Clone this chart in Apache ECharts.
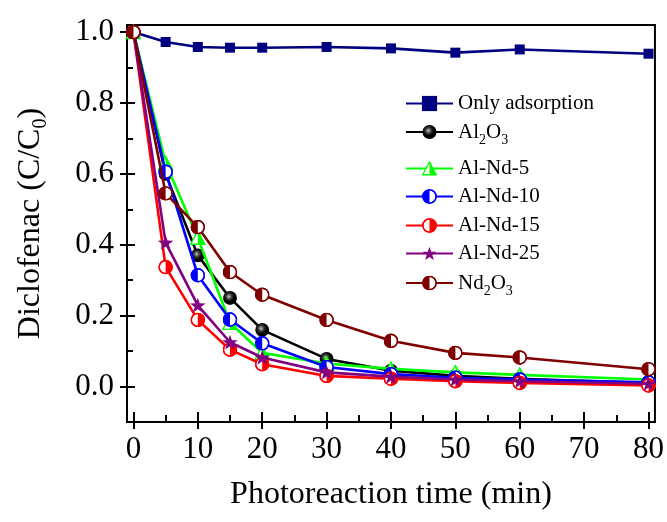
<!DOCTYPE html>
<html><head><meta charset="utf-8">
<script src="https://cdn.jsdelivr.net/npm/echarts@6/dist/echarts.min.js"></script>
<style>html,body{margin:0;padding:0;background:#fff}#c{width:667px;height:522px}</style>
</head><body><div id="c"></div>
<script>
// ---- data ----
const times = [0, 5, 10, 15, 20, 30, 40, 50, 60, 80];
const onlyAdsorption = [1.0, 0.972, 0.958, 0.956, 0.956, 0.958, 0.954, 0.942, 0.951, 0.939];
const al2o3 = [1.0, 0.60, 0.37, 0.25, 0.16, 0.078, 0.045, 0.030, 0.022, 0.010];
const alNd5 = [1.0, 0.63, 0.42, 0.18, 0.095, 0.065, 0.050, 0.040, 0.033, 0.020];
const alNd10 = [1.0, 0.606, 0.314, 0.189, 0.122, 0.055, 0.035, 0.025, 0.020, 0.012];
const alNd15 = [1.0, 0.337, 0.188, 0.104, 0.063, 0.030, 0.022, 0.015, 0.010, 0.003];
const alNd25 = [1.0, 0.406, 0.229, 0.125, 0.082, 0.040, 0.028, 0.020, 0.015, 0.008];
const nd2o3 = [1.0, 0.545, 0.450, 0.323, 0.259, 0.188, 0.129, 0.095, 0.082, 0.049];
const seriesNames = ['Only adsorption', 'Al2O3', 'Al-Nd-5', 'Al-Nd-10', 'Al-Nd-15', 'Al-Nd-25', 'Nd2O3'];
const seriesLabels = ['Only adsorption', 'Al{s|2}O{s|3}', 'Al-Nd-5', 'Al-Nd-10', 'Al-Nd-15', 'Al-Nd-25', 'Nd{s|2}O{s|3}'];
const xMajorTicks = [0, 10, 20, 30, 40, 50, 60, 70, 80];
const xMinorTicks = [5, 15, 25, 35, 45, 55, 65, 75];
const yMajorTicks = [0, 0.2, 0.4, 0.6, 0.8, 1.0];
const yMinorTicks = [0.1, 0.3, 0.5, 0.7, 0.9];
const xTitle = 'Photoreaction time (min)';
const yTitle = 'Diclofenac (C/C{s|0})';

// ---- styles ----
const FONT = '"Liberation Serif", "Times New Roman", serif';
function svg(inner) {
  return 'image://data:image/svg+xml;charset=utf-8,' + encodeURIComponent(
    '<svg xmlns="http://www.w3.org/2000/svg" width="28" height="28" viewBox="0 0 28 28">' + inner + '</svg>');
}
function halfCircle(color, leftFilled) {
  const sweep = leftFilled ? 0 : 1;
  return svg('<circle cx="14" cy="14" r="12.2" fill="#fff" stroke="' + color + '" stroke-width="2.6"/>' +
    '<path d="M14 1.8 A12.2 12.2 0 0 ' + sweep + ' 14 26.2 Z" fill="' + color + '"/>' +
    '<circle cx="14" cy="14" r="12.2" fill="none" stroke="' + color + '" stroke-width="2.6"/>');
}
const sphere = svg('<defs><radialGradient id="g" cx="0.42" cy="0.4" r="0.62"><stop offset="0" stop-color="#c8c8c8"/><stop offset="0.3" stop-color="#444"/><stop offset="0.6" stop-color="#000"/><stop offset="1" stop-color="#000"/></radialGradient></defs><circle cx="14" cy="14" r="13" fill="url(#g)"/>');
const tri = svg('<polygon points="14,2 26.5,25.5 1.5,25.5" fill="#fff" stroke="#00ff00" stroke-width="2.4" stroke-linejoin="miter"/><polygon points="14,2 26.5,25.5 14,25.5" fill="#00ff00"/>');
function starSvg(color) {
  let pts = [];
  for (let i = 0; i < 10; i++) {
    const r = i % 2 === 0 ? 13.5 : 5.4;
    const a = -Math.PI / 2 + i * Math.PI / 5;
    pts.push((14 + r * Math.cos(a)).toFixed(2) + ',' + (15 + r * Math.sin(a)).toFixed(2));
  }
  return svg('<polygon points="' + pts.join(' ') + '" fill="' + color + '"/>');
}

const colors = ['#000080', '#000000', '#00ff00', '#0000ff', '#ff0000', '#800080', '#800000'];
const symbols = ['rect', sphere, tri, halfCircle('#0000ff', true), halfCircle('#ff0000', false), starSvg('#800080'), halfCircle('#800000', true)];
const symbolSizes = [10, 15, 16, 15, 15, 17, 15];
const values = [onlyAdsorption, al2o3, alNd5, alNd10, alNd15, alNd25, nd2o3];
const legendRowCenters = [104, 132, 169, 197, 226, 254, 283];

const subRich = { s: { fontSize: 14, fontFamily: FONT, color: '#000', lineHeight: 14, padding: [16, 0, 0, 0] } };

const series = seriesNames.map((n, i) => ({
  name: n, type: 'line',
  data: times.map((t, k) => [t, values[i][k]]),
  symbol: symbols[i], symbolSize: symbolSizes[i],
  itemStyle: { color: colors[i] },
  lineStyle: { color: colors[i], width: 2.6 },
  clip: false, animation: false, z: 2 + i
}));

const legends = seriesNames.map((n, i) => {
  const hasSub = seriesLabels[i].indexOf('{s|') >= 0;
  return {
    data: [n], orient: 'vertical', left: 405,
    top: legendRowCenters[i] - (hasSub ? 15 : 11),
    itemWidth: 47, itemHeight: 19, itemGap: 0, padding: 0, selectedMode: false,
    formatter: () => seriesLabels[i],
    textStyle: { fontFamily: FONT, fontSize: 21, color: '#000', padding: [0, 0, 0, 0], rich: subRich }
  };
});

const baseX = { type: 'value', min: -1, max: 81, gridIndex: 0, splitLine: { show: false } };
const baseY = { type: 'value', min: -0.1, max: 1.02, gridIndex: 0, splitLine: { show: false } };
const lineStyle = { color: '#000', width: 2 };

const option = {
  animation: false,
  backgroundColor: '#fff',
  grid: { left: 127, right: 12, top: 25, bottom: 100, show: true, borderColor: '#000', borderWidth: 2, backgroundColor: 'transparent' },
  legend: legends,
  xAxis: [
    Object.assign({}, baseX, {
      position: 'bottom',
      axisLine: { show: true, onZero: false, lineStyle },
      axisTick: { show: true, inside: false, length: 7, customValues: xMajorTicks, lineStyle },
      axisLabel: { show: true, customValues: xMajorTicks, margin: 12, fontFamily: FONT, fontSize: 31, color: '#000' },
      name: xTitle, nameLocation: 'middle', nameGap: 57,
      nameTextStyle: { fontFamily: FONT, fontSize: 32, color: '#000' }
    }),
    Object.assign({}, baseX, {
      position: 'bottom',
      axisLine: { show: false, onZero: false },
      axisTick: { show: true, inside: true, length: 10, customValues: xMajorTicks, lineStyle },
      axisLabel: { show: false }
    }),
    Object.assign({}, baseX, {
      position: 'bottom',
      axisLine: { show: false, onZero: false },
      axisTick: { show: true, inside: true, length: 7, customValues: xMinorTicks, lineStyle },
      axisLabel: { show: false }
    })
  ],
  yAxis: [
    Object.assign({}, baseY, {
      position: 'left',
      axisLine: { show: true, onZero: false, lineStyle },
      axisTick: { show: true, inside: false, length: 7, customValues: yMajorTicks, lineStyle },
      axisLabel: { show: true, customValues: yMajorTicks, margin: 13, fontFamily: FONT, fontSize: 31, color: '#000',
        formatter: v => Number(v).toFixed(1) },
      name: yTitle, nameLocation: 'middle', nameGap: 80, nameRotate: 90,
      nameTextStyle: { fontFamily: FONT, fontSize: 32, color: '#000', rich: { s: { fontSize: 20, fontFamily: FONT, color: '#000', lineHeight: 20, padding: [20, 0, 0, 0] } } }
    }),
    Object.assign({}, baseY, {
      position: 'left',
      axisLine: { show: false, onZero: false },
      axisTick: { show: true, inside: true, length: 8, customValues: yMajorTicks, lineStyle },
      axisLabel: { show: false }
    }),
    Object.assign({}, baseY, {
      position: 'left',
      axisLine: { show: false, onZero: false },
      axisTick: { show: true, inside: true, length: 6, customValues: yMinorTicks, lineStyle },
      axisLabel: { show: false }
    })
  ],
  series: series
};

const chart = echarts.init(document.getElementById('c'), null, { renderer: 'canvas' });
chart.setOption(option);
</script>
</body></html>
